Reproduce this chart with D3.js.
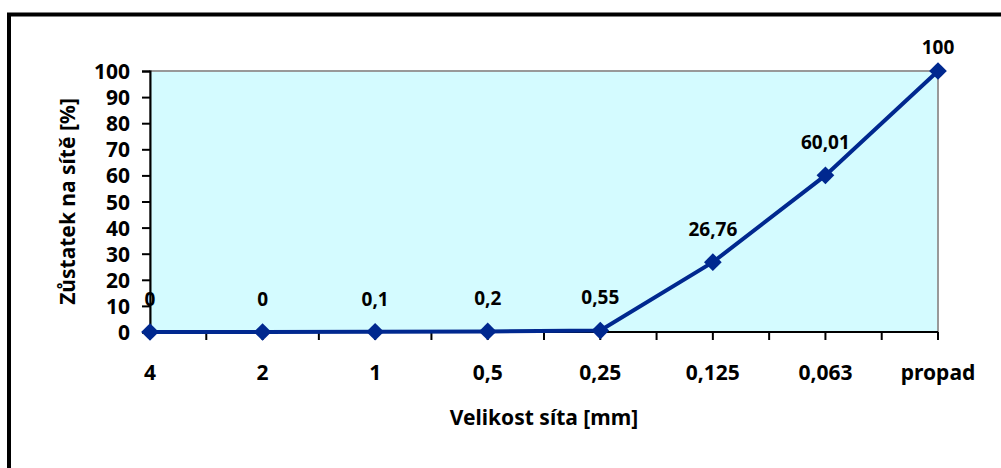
<!DOCTYPE html>
<html>
<head>
<meta charset="utf-8">
<script src="https://cdn.jsdelivr.net/npm/d3@7"></script>
<style>
  body { margin: 0; background: #fff; }
  svg { display: block; }
  text { font-family: "Noto Sans", sans-serif; font-weight: bold; fill: #000; }
</style>
</head>
<body>
<svg id="chart" width="1001" height="468"></svg>
<script>
// sieve sizes and retained share
const sieves = ["4", "2", "1", "0,5", "0,25", "0,125", "0,063", "propad"];
const retained = [0, 0, 0.1, 0.2, 0.55, 26.76, 60.01, 100];
const retainedLabels = ["0", "0", "0,1", "0,2", "0,55", "26,76", "60,01", "100"];
const yTicks = [0, 10, 20, 30, 40, 50, 60, 70, 80, 90, 100];

const svg = d3.select("#chart");

// outer frame, cut off at the right and bottom like the original
svg.append("rect")
  .attr("x", 9).attr("y", 14.5)
  .attr("width", 1010).attr("height", 480)
  .attr("fill", "none")
  .attr("stroke", "#000")
  .attr("stroke-width", 4);

const plot = { left: 150, top: 71, right: 938, bottom: 332 };

const x = d3.scalePoint()
  .domain(sieves)
  .range([plot.left, plot.right]);

const y = d3.scaleLinear()
  .domain([0, 100])
  .range([plot.bottom, plot.top]);

// plot background
svg.append("rect")
  .attr("x", plot.left).attr("y", plot.top)
  .attr("width", plot.right - plot.left)
  .attr("height", plot.bottom - plot.top)
  .attr("fill", "#d4fbff")
  .attr("stroke", "#999")
  .attr("stroke-width", 2);

// y axis
const yAxis = svg.append("g")
  .attr("transform", `translate(${plot.left},0)`)
  .call(d3.axisLeft(y).tickValues(yTicks).tickSize(8).tickPadding(12));
yAxis.select(".domain").attr("stroke", "#000").attr("stroke-width", 2);
yAxis.selectAll(".tick line").attr("stroke", "#000").attr("stroke-width", 2);
yAxis.selectAll(".tick text")
  .style("font-size", "21px")
  .style("font-family", "'Noto Sans', sans-serif")
  .style("font-weight", "bold")
  .attr("dy", "0.36em");

// x axis: ticks on every category and halfway between
const step = x.step();
const tickPos = d3.range(0, sieves.length * 2 - 1).map(i => plot.left + i * step / 2);
const xg = svg.append("g");
xg.append("line")
  .attr("x1", plot.left).attr("x2", plot.right)
  .attr("y1", plot.bottom).attr("y2", plot.bottom)
  .attr("stroke", "#000").attr("stroke-width", 2);
xg.selectAll(".xt")
  .data(tickPos)
  .join("line")
  .attr("x1", d => d).attr("x2", d => d)
  .attr("y1", plot.bottom).attr("y2", plot.bottom + 8)
  .attr("stroke", "#000").attr("stroke-width", 2);
xg.selectAll(".xl")
  .data(sieves)
  .join("text")
  .attr("x", d => x(d))
  .attr("y", 380)
  .attr("text-anchor", "middle")
  .style("font-size", "21px")
  .text(d => d);

// axis titles
svg.append("text")
  .attr("x", (plot.left + plot.right) / 2)
  .attr("y", 425)
  .attr("text-anchor", "middle")
  .style("font-size", "21px")
  .text("Velikost síta [mm]");

svg.append("text")
  .attr("transform", `translate(75,${(plot.top + plot.bottom) / 2}) rotate(-90)`)
  .attr("text-anchor", "middle")
  .style("font-size", "21px")
  .text("Zůstatek na sítě [%]");

// line and markers
const line = d3.line()
  .x((d, i) => x(sieves[i]))
  .y(d => y(d));

svg.append("path")
  .datum(retained)
  .attr("d", line)
  .attr("fill", "none")
  .attr("stroke", "#00288f")
  .attr("stroke-width", 4);

svg.selectAll(".marker")
  .data(retained)
  .join("path")
  .attr("d", d3.symbol(d3.symbolDiamond2, 200))
  .attr("transform", (d, i) => `translate(${x(sieves[i])},${y(d)})`)
  .attr("fill", "#00288f");

// data labels
svg.selectAll(".dl")
  .data(retained)
  .join("text")
  .attr("x", (d, i) => x(sieves[i]))
  .attr("y", d => Math.max(y(d) - 33, 47))
  .attr("dy", "0.36em")
  .attr("text-anchor", "middle")
  .style("font-size", "19px")
  .text((d, i) => retainedLabels[i]);
</script>
</body>
</html>
